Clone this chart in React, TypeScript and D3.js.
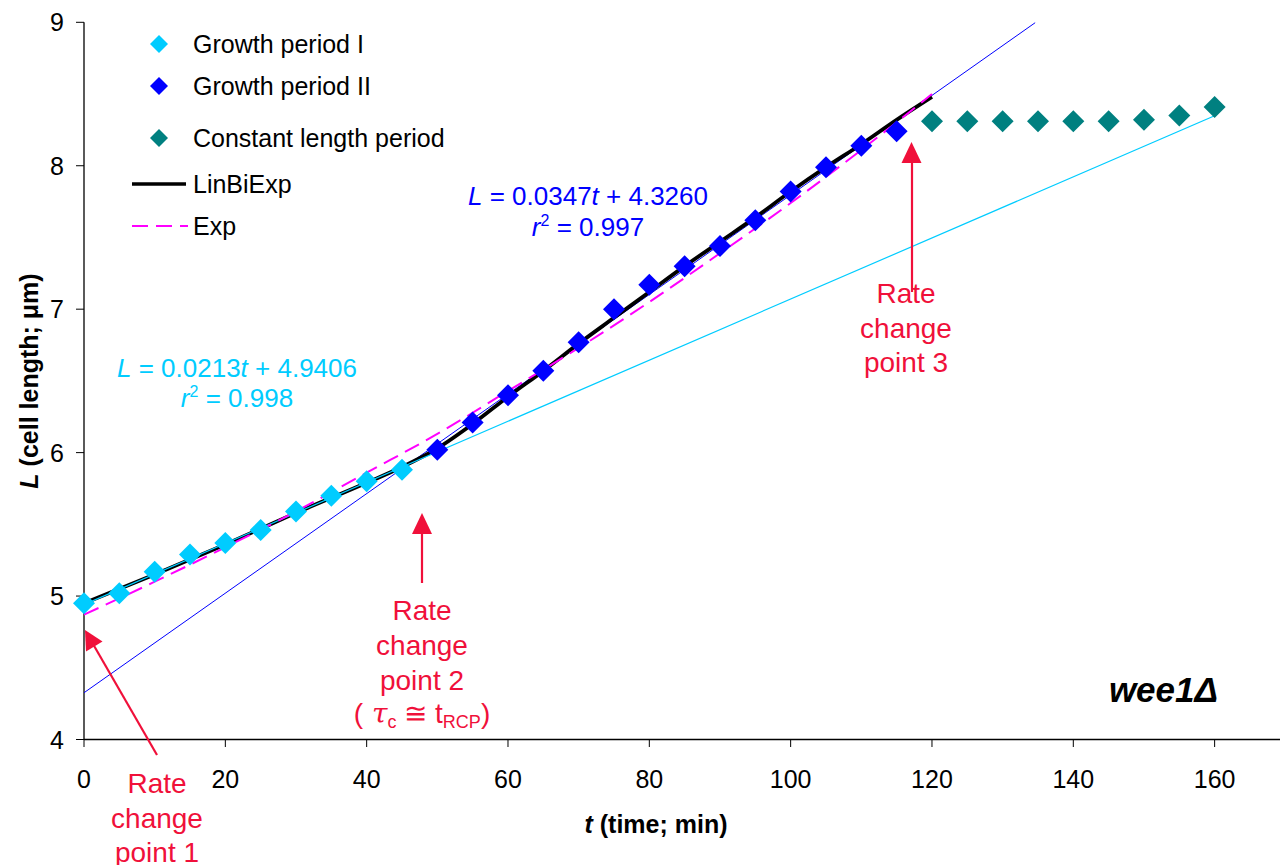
import React from "react";
import * as d3 from "d3";

const periodI_t = [0, 5, 10, 15, 20, 25, 30, 35, 40, 45];
const periodI_L = [4.95, 5.02, 5.17, 5.29, 5.37, 5.46, 5.59, 5.70, 5.80, 5.88];
const periodII_t = [50, 55, 60, 65, 70, 75, 80, 85, 90, 95, 100, 105, 110, 115];
const periodII_L = [6.02, 6.21, 6.40, 6.57, 6.77, 7.00, 7.17, 7.30, 7.44, 7.62, 7.82, 7.99, 8.14, 8.24];
const constant_t = [120, 125, 130, 135, 140, 145, 150, 155, 160];
const constant_L = [8.31, 8.31, 8.31, 8.31, 8.31, 8.31, 8.32, 8.35, 8.41];

const linBiExp_t = [0, 10, 20, 30, 40, 45, 50, 55, 60, 65, 70, 75, 80, 85, 90, 95, 100, 105, 110, 115, 120];
const linBiExp_L = [4.95, 5.15, 5.36, 5.58, 5.79, 5.90, 6.03, 6.20, 6.39, 6.57, 6.76, 6.94, 7.12, 7.30, 7.47, 7.64, 7.82, 7.99, 8.15, 8.32, 8.48];
const exp_t = [0, 10, 20, 30, 40, 50, 60, 70, 80, 90, 100, 110, 120];
const exp_L = [4.87, 5.10, 5.34, 5.59, 5.86, 6.13, 6.43, 6.73, 7.05, 7.39, 7.74, 8.11, 8.50];

// regression lines (endpoints)
const regI_t = [0, 160];
const regI_L = [4.9406, 8.3486];
const regII_t = [0, 134.6];
const regII_L = [4.326, 8.997];

const xTicks = [0, 20, 40, 60, 80, 100, 120, 140, 160];
const yTicks = [4, 5, 6, 7, 8, 9];

const CYAN = "#00CCFF";
const BLUE = "#0000FF";
const TEAL = "#008080";
const MAGENTA = "#FF00FF";
const RED = "#F0103A";

export default function App() {
  const x = d3.scaleLinear().domain([0, 169.25]).range([84, 1280]);
  const y = d3.scaleLinear().domain([4, 9]).range([739.5, 22.3]);
  const font = "Liberation Sans, Arial, sans-serif";

  const line = d3.line<[number, number]>().x((d) => x(d[0])).y((d) => y(d[1]));
  const smooth = d3
    .line<[number, number]>()
    .x((d) => x(d[0]))
    .y((d) => y(d[1]))
    .curve(d3.curveMonotoneX);

  const zip = (a: number[], b: number[]) => a.map((v, i) => [v, b[i]] as [number, number]);
  const diamond = (cx: number, cy: number, r: number) =>
    `M${cx},${cy - r}L${cx + r},${cy}L${cx},${cy + r}L${cx - r},${cy}Z`;

  const markers = (ts: number[], ls: number[], color: string) =>
    ts.map((t, i) => <path key={color + i} d={diamond(x(t), y(ls[i]), 11)} fill={color} />);

  return (
    <svg width={1280} height={865} style={{ display: "block", position: "absolute", left: 0, top: 0 }} fontFamily={font}>
      <rect width={1280} height={865} fill="#fff" />
      {/* axes */}
      <line x1={84} x2={1280} y1={739.5} y2={739.5} stroke="#000" strokeWidth={1.3} />
      <line x1={84} x2={84} y1={22.3} y2={739.5} stroke="#000" strokeWidth={1.3} />
      {xTicks.map((t) => (
        <g key={"xt" + t}>
          <line x1={x(t)} x2={x(t)} y1={739.5} y2={747} stroke="#000" strokeWidth={1} />
          <text x={x(t)} y={788} fontSize={25} textAnchor="middle">{t}</text>
        </g>
      ))}
      {yTicks.map((v) => (
        <g key={"yt" + v}>
          <line x1={76} x2={84} y1={y(v)} y2={y(v)} stroke="#000" strokeWidth={1} />
          <text x={64} y={y(v) + 9} fontSize={25} textAnchor="end">{v}</text>
        </g>
      ))}
      <text x={656} y={833} fontSize={25} fontWeight="bold" textAnchor="middle">
        <tspan fontStyle="italic">t</tspan> (time; min)
      </text>
      <text transform="translate(38,381) rotate(-90)" fontSize={25} fontWeight="bold" textAnchor="middle">
        <tspan fontStyle="italic">L</tspan> (cell length; μm)
      </text>

      {/* fits */}
      <path d={line(zip(regII_t, regII_L)) || ""} stroke={BLUE} strokeWidth={1} fill="none" />
      <path d={smooth(zip(linBiExp_t, linBiExp_L)) || ""} stroke="#000" strokeWidth={3.8} fill="none" />
      <path d={line(zip(regI_t, regI_L)) || ""} stroke={CYAN} strokeWidth={1.2} fill="none" />
      <path d={smooth(zip(exp_t, exp_L)) || ""} stroke={MAGENTA} strokeWidth={2} strokeDasharray="16,8" fill="none" />

      {markers(periodI_t, periodI_L, CYAN)}
      {markers(periodII_t, periodII_L, BLUE)}
      {markers(constant_t, constant_L, TEAL)}

      {/* legend */}
      <path d={diamond(159, 44, 9)} fill={CYAN} />
      <text x={193} y={53} fontSize={25}>Growth period I</text>
      <path d={diamond(159, 86, 9)} fill={BLUE} />
      <text x={193} y={95} fontSize={25}>Growth period II</text>
      <path d={diamond(159, 138, 9)} fill={TEAL} />
      <text x={193} y={147} fontSize={25}>Constant length period</text>
      <line x1={132} x2={186} y1={184} y2={184} stroke="#000" strokeWidth={3.5} />
      <text x={193} y={193} fontSize={25}>LinBiExp</text>
      <line x1={132} x2={188} y1={226} y2={226} stroke={MAGENTA} strokeWidth={2} strokeDasharray="16,8" />
      <text x={193} y={235} fontSize={25}>Exp</text>

      {/* equations */}
      <text x={237} y={377} fontSize={26} fill={CYAN} textAnchor="middle">
        <tspan fontStyle="italic">L</tspan> = 0.0213<tspan fontStyle="italic">t</tspan> + 4.9406
      </text>
      <text x={237} y={407} fontSize={26} fill={CYAN} textAnchor="middle">
        <tspan fontStyle="italic">r</tspan><tspan fontSize={16} dy={-10}>2</tspan><tspan dy={10}> = 0.998</tspan>
      </text>
      <text x={588} y={205} fontSize={26} fill={BLUE} textAnchor="middle">
        <tspan fontStyle="italic">L</tspan> = 0.0347<tspan fontStyle="italic">t</tspan> + 4.3260
      </text>
      <text x={588} y={236} fontSize={26} fill={BLUE} textAnchor="middle">
        <tspan fontStyle="italic">r</tspan><tspan fontSize={16} dy={-10}>2</tspan><tspan dy={10}> = 0.997</tspan>
      </text>

      {/* annotations */}
      <g fill={RED} fontSize={28} textAnchor="middle">
        <text x={422} y={620}>Rate</text>
        <text x={422} y={655}>change</text>
        <text x={422} y={690}>point 2</text>
        <text x={422} y={723}>
          (<tspan fontFamily="DejaVu Serif, serif" fontStyle="italic"> τ</tspan><tspan fontSize={18} dy={5}>c</tspan>
          <tspan dy={-5}> ≅ t</tspan><tspan fontSize={18} dy={5}>RCP</tspan><tspan dy={-5}>)</tspan>
        </text>
        <text x={906} y={303}>Rate</text>
        <text x={906} y={338}>change</text>
        <text x={906} y={372}>point 3</text>
        <text x={157} y={793}>Rate</text>
        <text x={157} y={828}>change</text>
        <text x={157} y={862}>point 1</text>
      </g>
      <line x1={422} x2={422} y1={583} y2={530} stroke={RED} strokeWidth={2.2} />
      <path d="M422,513L432,534L412,534Z" fill={RED} />
      <line x1={912} x2={912} y1={292} y2={158} stroke={RED} strokeWidth={2.2} />
      <path d="M911.5,142L921.5,163L901.5,163Z" fill={RED} />
      <line x1={157} x2={93} y1={755} y2={644} stroke={RED} strokeWidth={2.2} />
      <path d="M85,630L102.5,641.5L86,651.5Z" fill={RED} />

      <text x={1218} y={702} fontSize={35} fontWeight="bold" fontStyle="italic" textAnchor="end">wee1Δ</text>
    </svg>
  );
}
